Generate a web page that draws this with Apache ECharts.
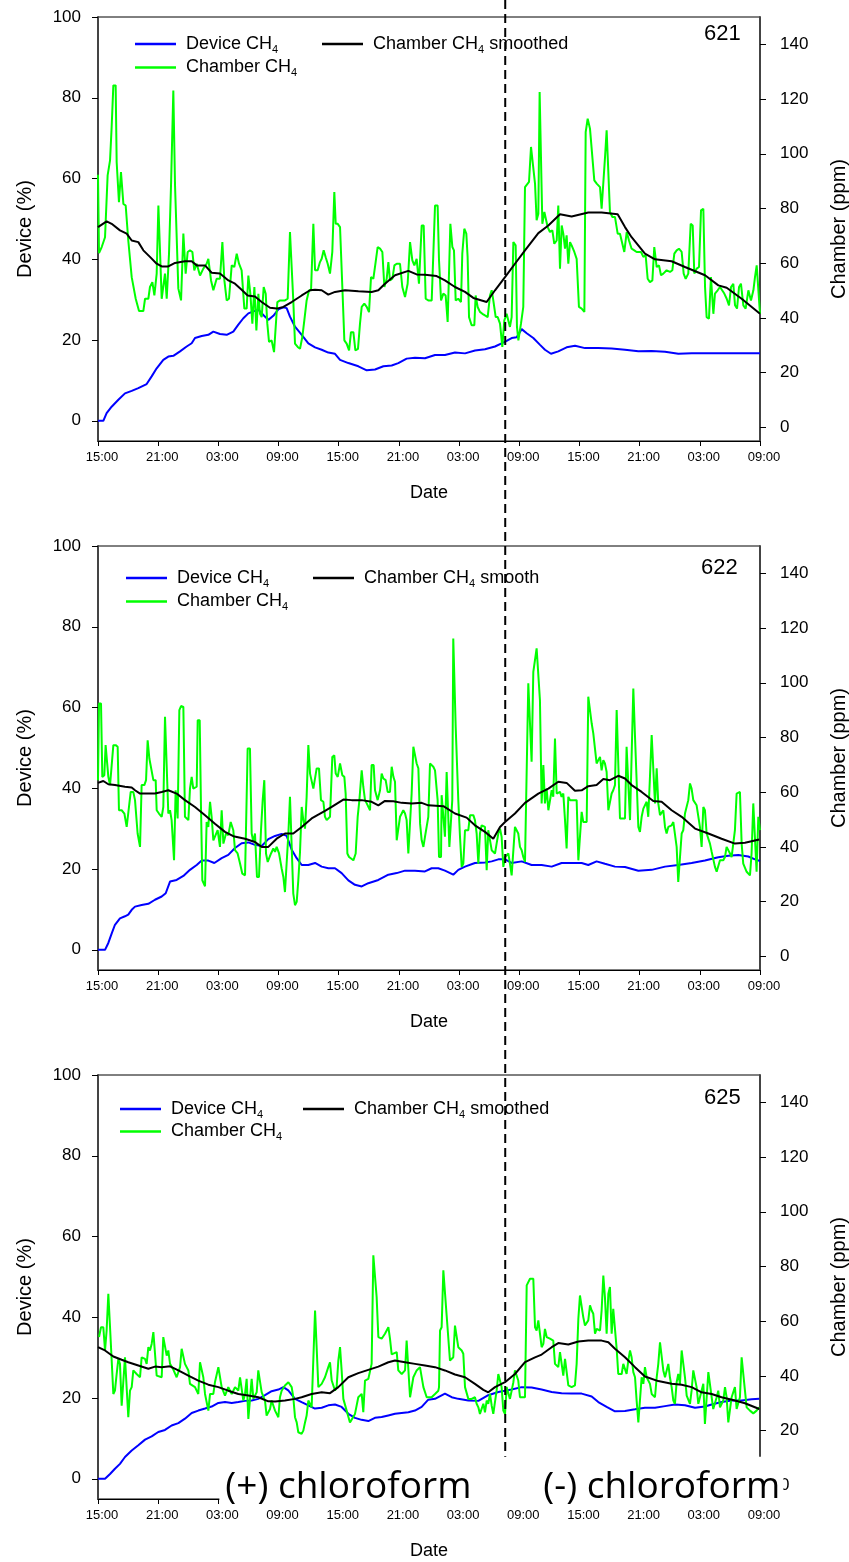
<!DOCTYPE html>
<html><head><meta charset="utf-8">
<script src="https://cdn.jsdelivr.net/npm/echarts@6/dist/echarts.min.js"></script>
<style>html,body{margin:0;padding:0;background:#fff}#c{width:849px;height:1562px}</style>
</head><body><div id="c"></div>
<script>
// ---------------- data (hours since 15:00 on day 1) ----------------
const TIME_LABELS = ['15:00','21:00','03:00','09:00','15:00','21:00','03:00','09:00','15:00','21:00','03:00','09:00'];
const PANEL_IDS = ['621','622','625'];
const SMOOTH_NAMES = ['Chamber CH4 smoothed','Chamber CH4 smooth','Chamber CH4 smoothed'];
const SWITCH_HOUR = 40.6;
const DEVICE_TICKS = [0,20,40,60,80,100];
const CHAMBER_TICKS = [0,20,40,60,80,100,120,140];
const LABEL_PLUS = '(+) chloroform';
const LABEL_MINUS = '(-) chloroform';

const P1_DEVICE = [[0,0],[0.53,0],[0.86,1.9],[1.36,3.5],[2.03,5.2],[2.69,6.8],[3.36,7.4],[4.02,8.1],[4.85,9.1],[5.35,11.0],[5.85,13.0],[6.51,15.1],[7.01,15.9],[7.51,16.1],[8.18,17.2],[8.84,18.4],[9.34,19.2],[9.67,20.5],[10.34,21.0],[11.0,21.3],[11.5,22.1],[12.16,21.5],[12.83,21.3],[13.49,22.1],[13.99,23.8],[14.49,25.4],[14.99,26.6],[15.49,27.1],[15.99,27.5],[16.48,26.2],[16.98,25.0],[17.48,26.0],[17.98,27.6],[18.48,28.1],[18.81,27.9],[19.14,25.8],[19.64,23.3],[20.31,21.3],[20.97,19.2],[21.64,18.2],[22.3,17.6],[22.96,16.9],[23.63,16.6],[24.13,15.1],[24.96,14.3],[25.96,13.5],[26.79,12.5],[27.62,12.7],[28.45,13.5],[29.28,13.7],[29.94,14.3],[30.77,15.4],[31.6,15.6],[32.6,15.5],[33.6,16.3],[34.59,16.3],[35.59,16.9],[36.59,16.7],[37.59,17.4],[38.58,17.7],[39.58,18.4],[40.24,19.2],[40.74,19.8],[41.24,20.5],[41.74,20.7],[42.24,22.7],[42.74,21.7],[43.4,20.5],[44.07,18.8],[44.56,17.6],[45.16,16.6],[45.89,17.2],[46.72,18.2],[47.56,18.6],[48.55,18.0],[49.88,18.0],[51.21,17.9],[52.54,17.6],[53.87,17.2],[55.2,17.3],[56.53,17.1],[57.86,16.6],[59.19,16.7],[60.18,16.7],[66,16.7]];
const P1_CHAMBER = [[0,92.3],[0.1,63.7],[0.37,65.9],[0.7,69.5],[0.96,92.1],[1.2,97.6],[1.36,109.7],[1.53,125],[1.76,125],[1.86,97],[2.09,82.3],[2.29,93.3],[2.53,81.7],[2.76,81.1],[3.02,68.3],[3.36,54.9],[3.76,47],[4.09,42.5],[4.52,42.5],[4.69,47],[5.02,47],[5.18,51.3],[5.42,53.1],[5.62,48.2],[5.85,56.2],[6.02,81.1],[6.18,81.1],[6.35,47],[6.68,56.2],[6.85,47],[7.08,63.5],[7.28,88.4],[7.51,123.1],[7.68,88.4],[7.84,87.8],[8.01,50.7],[8.28,46.4],[8.51,70.8],[8.74,56.2],[8.94,64.1],[9.17,64.7],[9.41,64.1],[9.6,57.4],[9.84,59.8],[10.17,55.5],[10.5,58],[10.83,59.8],[11.0,61.6],[11.27,53.7],[11.5,50.1],[11.83,54.3],[12.16,54.3],[12.4,67.7],[12.6,53.7],[12.83,46.4],[13.06,47],[13.33,59.2],[13.59,58.6],[13.83,63.5],[14.06,59.8],[14.32,57.4],[14.59,43.4],[14.82,43.4],[14.99,55.5],[15.19,48.8],[15.39,37.9],[15.59,51.3],[15.79,35.4],[15.99,48.8],[16.15,41.5],[16.32,40.3],[16.52,51.3],[16.72,48.8],[16.88,37.9],[17.05,31.2],[17.31,31.8],[17.55,27.5],[17.71,28.1],[17.88,45.8],[18.15,46.4],[18.64,46.4],[18.91,47],[19.14,71.4],[19.31,71.4],[19.47,46.4],[19.64,30.6],[19.91,29.4],[20.14,28.7],[20.37,33],[20.57,39.1],[20.8,46.4],[21.04,50.1],[21.24,50.1],[21.47,74.4],[21.64,57.4],[21.9,57.4],[22.13,60.4],[22.3,61.6],[22.5,64.7],[22.7,62.2],[22.9,59.8],[23.13,56.2],[23.36,64.1],[23.56,86],[23.7,74.4],[23.9,74.4],[24.13,73.2],[24.36,51.3],[24.56,31.8],[24.79,30.6],[25.03,28.1],[25.22,34.8],[25.46,34.8],[25.66,28.1],[25.92,28.7],[26.12,37.9],[26.29,44],[26.55,45.2],[26.79,44],[27.02,42.1],[27.22,54.9],[27.45,54.3],[27.68,60.4],[27.88,65.9],[28.12,65.3],[28.35,64.1],[28.55,51.3],[28.78,54.3],[28.95,60.4],[29.11,53.7],[29.35,54.3],[29.55,59.2],[29.78,59.8],[30.11,59.8],[30.34,51.3],[30.61,47.6],[30.87,52.5],[31.11,67.7],[31.34,61],[31.54,59.2],[31.77,61.6],[32.0,52.5],[32.27,73.8],[32.47,73.8],[32.67,47],[32.93,46.4],[33.27,46.4],[33.6,81.1],[33.86,81.1],[34.0,61.0],[34.2,46.4],[34.43,48.9],[34.66,48.2],[34.86,38.5],[34.99,39.1],[35.13,74.4],[35.33,65.9],[35.49,64.7],[35.66,46.4],[35.92,47.0],[36.19,45.8],[36.32,63.5],[36.52,72.6],[36.72,70.8],[36.85,62.3],[36.99,40.3],[37.25,37.3],[37.52,37.3],[37.65,48.2],[37.85,44.0],[38.08,42.2],[38.32,41.5],[38.58,40.9],[38.85,40.3],[39.08,48.2],[39.25,50.1],[39.41,46.4],[39.65,40.3],[39.85,40.3],[40.08,37.9],[40.31,29.4],[40.51,39.1],[40.74,41.5],[40.91,42.2],[41.07,36.7],[41.24,40.3],[41.41,67.7],[41.64,66.5],[41.77,36.7],[41.91,31.8],[42.17,37.9],[42.4,44.0],[42.57,87.8],[42.74,88.4],[42.97,89.7],[43.17,102.5],[43.33,102.5],[43.57,89.1],[43.73,75.7],[43.9,78.1],[44.03,122.6],[44.17,122.6],[44.3,74.4],[44.5,78.7],[44.63,78.7],[44.83,73.2],[45.06,71.4],[45.3,72.0],[45.49,67.1],[45.73,68.3],[45.89,81.1],[46.06,58.0],[46.23,73.8],[46.39,70.8],[46.56,65.3],[46.72,70.2],[46.89,59.8],[47.06,67.7],[47.22,66.5],[47.49,64.1],[47.72,61.6],[47.95,44.0],[48.22,43.4],[48.49,42.2],[48.62,107.9],[48.82,112.8],[49.05,109.2],[49.22,108.6],[49.48,90.3],[49.72,89.1],[49.88,89.7],[50.05,87.8],[50.21,79.9],[50.38,79.9],[50.55,98.8],[50.71,108.6],[50.88,108.6],[51.04,78.7],[51.28,76.9],[51.54,76.9],[51.81,70.8],[52.04,70.8],[52.21,70.8],[52.47,64.1],[52.71,71.4],[52.94,68.3],[53.2,65.3],[53.47,64.7],[53.7,64.1],[53.87,63.5],[54.14,64.1],[54.37,62.3],[54.6,62.9],[54.8,54.3],[55.03,53.1],[55.27,53.7],[55.46,65.9],[55.7,58.6],[55.93,59.2],[56.13,55.6],[56.36,56.2],[56.69,57.4],[57.03,56.8],[57.26,57.4],[57.46,63.5],[57.69,64.7],[57.92,65.3],[58.19,64.1],[58.39,56.2],[58.59,54.3],[58.85,56.2],[59.09,74.4],[59.29,73.8],[59.45,56.2],[59.69,58.0],[59.92,58.6],[60.12,79.3],[60.35,79.9],[60.52,51.3],[60.68,40.3],[60.91,39.7],[61.11,54.9],[61.35,41.5],[61.51,48.9],[61.78,50.1],[62.01,51.3],[62.18,50.7],[62.44,48.9],[62.68,47.0],[62.91,44.6],[63.11,51.3],[63.34,52.5],[63.51,44.6],[63.71,43.4],[63.91,51.3],[64.1,52.5],[64.34,44.6],[64.57,43.4],[64.84,50.1],[65.1,46.4],[65.34,50.1],[65.5,54.9],[65.67,59.2],[65.83,59.2],[66,41.5]];
const P1_SMOOTH = [[0,73.2],[0.86,75.3],[1.36,74.4],[2.19,72.0],[2.86,70.8],[3.36,68.3],[4.02,67.7],[4.52,64.7],[5.18,62.3],[5.85,59.8],[6.35,58.8],[7.01,58.8],[7.68,60.1],[8.67,60.7],[9.34,60.7],[9.84,59.2],[10.67,59.2],[11.33,56.5],[12.16,56.2],[13.0,53.7],[13.66,52.5],[14.32,50.3],[14.92,48.2],[15.65,47.8],[16.32,45.8],[17.15,43.7],[17.81,43.4],[18.48,44.0],[19.31,45.8],[20.31,48.2],[21.14,50.1],[21.64,50.3],[22.3,50.1],[22.96,48.5],[23.63,49.5],[24.63,50.1],[25.96,49.7],[27.28,49.5],[27.95,50.1],[28.61,52.5],[29.61,55.6],[30.94,57.2],[31.77,55.9],[32.6,55.8],[33.76,55.3],[34.59,53.7],[35.59,51.3],[36.59,49.5],[37.42,47.3],[38.75,45.8],[39.58,50.1],[40.58,54.9],[41.57,59.8],[42.57,64.7],[43.9,71.0],[44.9,73.8],[46.06,77.9],[47.22,77.1],[48.88,78.5],[50.21,78.5],[51.81,77.9],[52.54,73.2],[53.2,69.5],[54.53,63.5],[55.53,61.4],[57.19,60.7],[58.52,58.6],[60.52,55.6],[61.85,51.9],[62.68,51.0],[64.17,47.0],[66,41.5]];

const P2_DEVICE = [[0,0],[0.7,0],[1.03,1.7],[1.36,4.0],[1.69,6.2],[2.19,7.8],[2.69,8.3],[3.02,8.7],[3.36,9.9],[3.69,10.7],[4.35,11.1],[5.02,11.4],[5.68,12.4],[6.35,13.2],[6.75,14.0],[7.18,16.9],[7.84,17.3],[8.51,18.3],[9.17,19.8],[9.84,21.0],[10.34,22.1],[11.0,22.1],[11.6,21.5],[12.33,22.7],[12.99,23.5],[13.66,25.2],[14.32,26.4],[14.99,26.6],[15.65,26.0],[16.32,25.7],[16.98,27.4],[17.65,28.2],[18.31,28.7],[18.81,28.2],[19.31,24.8],[19.81,22.7],[20.31,21.0],[20.97,21.0],[21.64,21.5],[22.3,20.6],[22.96,20.2],[23.63,20.2],[24.29,19.0],[24.96,17.2],[25.62,16.1],[26.29,15.7],[26.95,16.5],[27.95,17.3],[28.95,18.6],[29.78,19.0],[30.61,19.6],[31.6,19.6],[32.6,19.4],[33.26,20.2],[33.93,20.2],[34.59,19.6],[35.42,18.6],[35.92,19.8],[36.59,20.6],[37.58,21.5],[38.58,21.6],[39.25,21.9],[39.91,22.4],[40.58,22.4],[41.24,21.5],[42.24,21.9],[43.23,21.0],[44.23,21.0],[45.23,20.6],[46.22,21.5],[47.22,21.5],[48.22,21.5],[48.88,21.0],[49.71,21.9],[50.54,21.3],[51.54,20.6],[52.54,20.5],[53.87,19.6],[55.2,19.8],[56.53,20.6],[57.85,21.0],[59.18,21.5],[60.51,22.1],[61.84,22.9],[62.84,23.3],[63.84,23.5],[64.83,23.1],[65.5,22.4],[66,22.0]];
const P2_CHAMBER = [[0,64.4],[0.1,92.4],[0.3,92.4],[0.43,65.6],[0.63,66.2],[0.76,77.2],[0.93,77.2],[1.03,65.6],[1.2,62.6],[1.36,62.6],[1.53,77.2],[1.76,77.2],[1.96,76.6],[2.09,53.4],[2.36,53.4],[2.63,52.2],[2.86,47.3],[3.02,47.3],[3.26,60.1],[3.52,60.1],[3.69,57.1],[3.95,44.9],[4.19,40.0],[4.35,62.6],[4.62,62.6],[4.79,64.4],[4.95,79.0],[5.12,72.3],[5.28,71.7],[5.52,64.4],[5.75,64.4],[5.85,53.4],[6.08,52.2],[6.35,51.0],[6.51,54.6],[6.68,87.6],[6.85,87.0],[7.01,52.2],[7.18,53.4],[7.34,49.8],[7.58,35.1],[7.74,60.7],[7.94,50.4],[8.11,90.0],[8.28,91.5],[8.51,91.2],[8.67,51.0],[8.84,51.6],[9.01,49.8],[9.17,61.3],[9.34,65.6],[9.5,61.3],[9.84,62.0],[9.94,86.3],[10.14,86.3],[10.27,54.0],[10.4,27.8],[10.67,25.6],[10.83,49.1],[11.0,47.3],[11.17,56.5],[11.33,51.0],[11.5,42.4],[11.66,42.4],[11.93,46.1],[12.16,40.0],[12.33,53.4],[12.5,41.2],[12.76,44.9],[12.99,44.3],[13.23,49.1],[13.49,46.1],[13.66,38.8],[13.92,37.6],[14.16,33.9],[14.39,30.2],[14.66,29.6],[14.82,30.2],[14.92,76.0],[15.15,76.0],[15.32,44.9],[15.49,41.8],[15.65,44.9],[15.85,29.0],[16.05,29.0],[16.25,46.1],[16.42,57.1],[16.58,64.4],[16.75,37.6],[16.92,34.5],[17.05,34.5],[17.25,37.6],[17.48,39.4],[17.65,38.2],[17.81,40.0],[18.05,37.6],[18.31,32.1],[18.48,29.0],[18.64,23.5],[18.81,24.1],[18.98,44.9],[19.14,58.3],[19.31,58.3],[19.47,22.9],[19.64,18.7],[19.81,19.9],[19.97,27.8],[20.14,38.2],[20.31,54.6],[20.47,49.8],[20.64,46.7],[20.8,58.3],[20.97,77.2],[21.14,66.8],[21.3,66.8],[21.47,61.3],[21.64,61.3],[21.8,68.7],[22.03,68.7],[22.23,57.1],[22.47,56.5],[22.63,51.0],[22.8,49.8],[23.13,51.0],[23.36,72.9],[23.56,73.5],[23.7,66.8],[23.9,65.6],[24.13,70.5],[24.36,66.2],[24.56,65.6],[24.69,59.5],[24.86,37.6],[25.03,36.3],[25.22,37.0],[25.46,35.1],[25.69,37.6],[25.89,51.0],[26.06,57.1],[26.29,68.0],[26.45,62.0],[26.62,57.1],[26.79,55.9],[27.12,53.4],[27.28,69.9],[27.48,69.9],[27.62,60.7],[27.88,57.1],[28.12,60.7],[28.28,66.8],[28.45,65.0],[28.68,64.4],[28.88,60.1],[29.11,60.1],[29.28,69.3],[29.45,65.6],[29.61,63.8],[29.78,42.4],[29.94,42.4],[30.11,51.0],[30.28,52.2],[30.44,53.4],[30.61,52.2],[30.77,49.8],[30.94,37.6],[31.11,37.6],[31.27,59.5],[31.44,76.6],[31.6,76.6],[31.77,70.5],[31.94,68.7],[32.11,48.5],[32.27,42.4],[32.44,40.0],[32.6,43.7],[32.77,43.7],[32.93,51.0],[33.1,70.5],[33.43,69.3],[33.6,68.0],[33.76,68.0],[33.86,57.1],[34.0,36.3],[34.2,36.3],[34.26,58.9],[34.43,58.3],[34.59,43.7],[34.76,67.4],[34.93,67.4],[35.03,40.0],[35.19,40.0],[35.32,57.1],[35.42,116.2],[35.59,115.6],[35.66,83.9],[35.79,83.9],[35.92,57.1],[36.09,43.7],[36.26,32.7],[36.42,33.9],[36.59,46.1],[36.92,46.1],[37.09,51.6],[37.42,51.6],[37.58,49.8],[37.75,44.9],[37.92,33.9],[38.08,44.9],[38.25,47.9],[38.58,47.3],[38.75,31.5],[38.91,46.1],[39.08,46.1],[39.25,38.8],[39.58,37.6],[39.74,41.2],[39.91,44.9],[40.08,46.7],[40.24,43.7],[40.41,32.7],[40.58,36.3],[40.91,37.6],[41.07,33.9],[41.24,29.6],[41.41,29.6],[41.57,47.3],[41.74,47.3],[41.9,44.9],[42.07,40.0],[42.24,38.8],[42.4,36.3],[42.57,34.5],[42.74,35.1],[42.9,99.8],[43.07,99.8],[43.23,71.1],[43.4,104.0],[43.57,104.6],[43.73,112.6],[43.9,112.6],[44.06,93.7],[44.23,55.9],[44.4,69.9],[44.56,55.9],[44.73,61.3],[44.9,53.4],[45.06,53.4],[45.23,60.7],[45.39,58.3],[45.56,79.6],[45.73,59.5],[46.06,60.1],[46.22,58.3],[46.39,59.5],[46.56,49.8],[46.72,39.4],[46.89,58.3],[47.06,57.1],[47.72,57.1],[47.89,35.1],[48.05,35.1],[48.22,52.8],[48.38,49.1],[48.72,49.1],[48.88,94.9],[49.05,95.5],[49.22,85.1],[49.38,81.5],[49.55,80.9],[49.71,70.5],[49.88,70.5],[50.05,72.9],[50.21,68.0],[50.38,71.7],[50.54,70.5],[50.71,67.4],[50.88,53.4],[51.04,52.8],[51.21,59.5],[51.37,60.7],[51.54,62.6],[51.71,90.0],[51.87,90.0],[52.04,50.4],[52.54,50.4],[52.7,76.6],[52.87,76.6],[53.04,49.8],[53.2,49.8],[53.37,97.9],[53.54,80.2],[53.7,80.2],[53.87,47.3],[54.03,45.5],[54.2,51.0],[54.37,54.0],[54.53,54.6],[54.7,56.5],[54.86,51.0],[55.03,65.6],[55.2,80.9],[55.36,80.9],[55.53,55.9],[55.7,68.7],[55.86,55.9],[56.03,51.6],[56.19,51.0],[56.36,53.4],[56.53,47.3],[56.69,44.9],[56.86,47.3],[57.19,47.9],[57.36,49.1],[57.52,49.8],[57.69,40.0],[57.85,27.2],[58.02,27.8],[58.19,44.9],[58.35,46.1],[58.52,52.2],[58.69,52.2],[58.85,57.1],[59.02,63.2],[59.18,61.3],[59.35,57.1],[59.52,56.5],[59.68,55.2],[59.85,54.6],[60.01,47.3],[60.18,40.0],[60.35,54.6],[60.51,53.4],[60.68,44.9],[60.85,45.5],[61.01,41.2],[61.18,38.2],[61.34,37.6],[61.51,32.7],[61.68,30.9],[61.84,30.2],[62.01,35.1],[62.34,35.1],[62.51,36.3],[62.67,40.0],[62.84,40.6],[63.01,37.6],[63.17,36.3],[63.34,36.3],[63.5,46.1],[63.67,59.5],[64.0,60.1],[64.17,41.2],[64.33,33.9],[64.5,33.9],[64.67,30.9],[64.83,30.2],[65.0,29.6],[65.16,37.6],[65.33,55.9],[65.5,55.9],[65.66,30.9],[65.83,51.0],[66,46.1]];
const P2_SMOOTH = [[0,63.4],[0.53,64.1],[1.03,62.9],[1.69,62.6],[2.69,62.0],[3.36,61.7],[3.69,60.7],[4.19,59.5],[5.68,59.5],[6.35,60.1],[7.01,60.7],[7.84,59.5],[8.67,57.1],[9.67,54.6],[10.67,51.6],[11.66,48.5],[12.66,45.5],[13.49,43.9],[14.66,43.0],[15.65,41.8],[16.32,40.0],[16.98,40.0],[17.81,43.0],[18.64,44.9],[19.47,44.9],[20.31,47.3],[21.3,50.4],[22.63,53.2],[23.3,54.6],[24.46,57.3],[25.29,57.1],[26.29,57.1],[27.28,56.5],[27.95,55.2],[28.61,56.8],[29.45,56.7],[30.28,56.1],[31.27,55.9],[32.27,56.1],[32.93,55.2],[34.43,54.9],[35.59,52.2],[36.75,50.7],[37.58,47.9],[38.58,45.5],[39.41,43.0],[40.08,47.3],[40.58,49.1],[41.57,52.2],[42.57,56.1],[43.9,59.5],[44.9,61.3],[45.89,63.8],[46.72,63.4],[47.55,60.5],[48.22,60.7],[48.88,62.2],[49.71,62.6],[50.38,64.8],[51.04,64.4],[51.87,66.0],[52.54,65.0],[53.2,62.6],[54.2,60.1],[55.36,56.8],[56.19,56.5],[57.19,53.4],[58.19,51.0],[59.52,46.7],[60.85,44.9],[62.17,43.0],[63.5,41.2],[64.5,41.5],[65.93,42.7]];

const P3_DEVICE = [[0,0],[0.7,0],[1.2,1.2],[1.69,2.5],[2.19,3.7],[2.69,5.4],[3.36,7.0],[4.02,8.3],[4.69,9.7],[5.35,10.5],[6.01,11.6],[6.68,12.1],[7.34,13.2],[8.01,13.8],[8.67,14.9],[9.34,16.3],[10.0,16.9],[10.67,17.4],[11.33,17.9],[12.0,18.8],[12.66,19.0],[13.33,18.8],[13.99,19.0],[14.65,19.3],[15.32,19.4],[15.98,19.8],[16.65,20.7],[17.31,21.7],[17.98,22.1],[18.48,22.7],[18.97,21.9],[19.64,19.8],[20.3,19.0],[20.97,18.2],[21.63,17.4],[22.3,17.6],[22.96,18.2],[23.63,18.4],[24.29,17.8],[24.96,16.1],[25.62,15.1],[26.28,14.6],[26.95,14.3],[27.61,15.1],[28.28,15.3],[28.94,15.7],[29.61,16.1],[30.27,16.3],[30.94,16.5],[31.6,16.9],[32.27,17.8],[32.93,19.6],[33.6,19.8],[34.59,21.1],[35.26,20.2],[35.92,19.8],[36.92,19.4],[37.92,19.3],[38.91,20.7],[39.91,21.5],[41.24,22.1],[42.24,22.7],[43.23,22.6],[44.23,22.1],[45.23,21.5],[46.22,21.2],[47.22,21.1],[48.22,21.1],[49.22,20.4],[49.88,19.0],[50.71,17.8],[51.54,16.7],[52.54,16.8],[53.54,17.2],[54.53,17.6],[55.53,17.6],[56.53,18.0],[57.52,18.4],[58.52,18.2],[59.52,17.6],[60.51,17.9],[61.18,18.4],[62.17,19.0],[63.17,19.4],[64.17,19.4],[65.16,19.7],[65.93,19.8]];
const P3_CHAMBER = [[0.1,54.2],[0.3,57.8],[0.53,57.8],[0.7,49.3],[0.86,56.6],[1.03,70.0],[1.2,57.8],[1.36,57.8],[1.53,33.4],[1.69,34.6],[1.86,40.7],[2.03,46.2],[2.19,44.4],[2.36,29.1],[2.53,29.1],[2.69,46.8],[2.86,46.2],[3.02,24.9],[3.19,34.6],[3.36,35.9],[3.52,42.0],[3.85,40.7],[4.19,39.5],[4.35,46.8],[4.69,46.2],[4.85,44.4],[5.02,50.5],[5.18,49.3],[5.35,51.7],[5.52,56.0],[5.68,56.0],[5.85,40.1],[6.35,39.5],[6.51,54.2],[6.68,54.2],[6.85,47.4],[7.01,49.3],[7.18,44.4],[7.51,42.3],[7.84,39.5],[8.01,38.9],[8.18,43.2],[8.34,49.9],[8.51,49.3],[8.67,44.4],[9.01,42.0],[9.17,37.1],[9.67,35.9],[10.0,33.4],[10.17,45.0],[10.34,45.0],[10.5,39.5],[10.67,33.4],[11.0,27.3],[11.17,33.4],[11.5,33.4],[11.66,37.7],[12.0,43.2],[12.16,43.2],[12.33,35.9],[12.49,35.9],[12.66,32.8],[12.99,35.9],[13.33,33.4],[13.66,35.9],[13.99,34.6],[14.16,39.5],[14.32,39.5],[14.49,31.0],[14.66,33.4],[14.82,38.9],[14.99,24.3],[15.15,24.9],[15.32,38.9],[15.49,31.6],[15.65,31.6],[15.82,34.0],[15.98,42.0],[16.15,42.0],[16.32,34.0],[16.65,31.0],[16.81,25.5],[17.15,27.9],[17.31,31.0],[17.65,27.3],[17.98,24.9],[18.14,32.2],[18.31,34.6],[18.64,36.5],[18.98,37.7],[19.31,35.9],[19.47,32.2],[19.64,24.9],[19.81,23.0],[19.97,19.4],[20.3,18.8],[20.47,20.0],[20.64,23.0],[20.8,25.5],[20.97,31.0],[21.14,31.6],[21.3,28.5],[21.47,29.1],[21.64,63.9],[21.8,63.9],[21.97,35.9],[22.3,37.1],[22.63,39.5],[22.96,43.2],[23.13,45.0],[23.3,38.3],[23.63,34.6],[23.79,35.9],[23.96,45.6],[24.13,50.5],[24.29,42.0],[24.46,31.6],[24.79,27.3],[25.12,23.0],[25.29,22.4],[25.62,26.1],[25.79,26.1],[25.95,32.2],[26.29,33.4],[26.45,26.7],[26.62,38.3],[26.95,38.9],[27.28,44.4],[27.45,84.1],[27.61,84.1],[27.78,68.8],[27.95,54.2],[28.28,53.6],[28.61,55.4],[28.95,57.8],[29.11,53.6],[29.28,47.9],[29.78,48.7],[29.94,42.0],[30.28,40.7],[30.61,42.0],[30.77,52.9],[30.94,53.6],[31.11,32.2],[31.27,32.2],[31.44,39.5],[31.77,42.0],[32.1,43.2],[32.27,43.2],[32.44,35.9],[32.77,32.2],[32.93,31.6],[33.26,32.2],[33.6,33.4],[33.93,34.6],[34.0,35.9],[34.1,56.6],[34.26,57.8],[34.43,78.6],[34.59,78.6],[34.76,62.1],[34.93,61.5],[35.09,45.6],[35.26,45.6],[35.42,46.8],[35.59,58.4],[35.76,58.4],[35.92,50.5],[36.26,49.3],[36.42,48.1],[36.59,35.9],[36.75,35.9],[36.92,31.6],[37.25,31.6],[37.58,32.2],[37.75,29.8],[37.92,28.5],[38.08,26.1],[38.25,26.1],[38.42,29.8],[38.58,26.7],[38.75,31.0],[38.91,29.8],[39.08,33.4],[39.25,29.1],[39.41,26.1],[39.58,25.5],[39.74,34.6],[39.91,40.7],[40.08,40.7],[40.24,35.9],[40.41,27.3],[40.58,26.1],[40.74,35.9],[40.91,35.9],[41.07,31.6],[41.24,34.6],[41.41,37.7],[41.57,42.0],[41.74,42.0],[41.9,38.3],[42.07,32.2],[42.24,31.6],[42.57,32.2],[42.74,73.1],[42.9,73.7],[43.07,75.5],[43.23,76.1],[43.4,75.5],[43.57,57.8],[43.73,56.6],[43.9,60.3],[44.06,60.3],[44.23,50.5],[44.4,51.7],[44.56,57.2],[44.73,54.2],[45.06,53.6],[45.39,52.9],[45.56,44.4],[45.73,44.4],[45.89,43.2],[46.06,48.7],[46.22,48.7],[46.39,40.1],[46.56,46.2],[46.72,46.2],[46.89,36.5],[47.22,35.9],[47.55,36.5],[47.72,44.4],[47.89,60.9],[48.05,69.4],[48.22,69.4],[48.38,61.5],[48.55,58.4],[48.88,60.3],[49.05,65.8],[49.22,63.9],[49.38,62.7],[49.55,55.4],[49.71,57.2],[50.05,56.6],[50.21,63.9],[50.38,76.7],[50.54,68.8],[50.71,55.4],[50.88,70.0],[51.04,72.5],[51.21,55.4],[51.37,64.5],[51.54,64.5],[51.71,49.9],[51.87,40.7],[52.21,40.7],[52.37,44.4],[52.54,45.0],[52.7,40.7],[52.87,45.6],[53.04,49.3],[53.2,46.8],[53.37,41.4],[53.54,39.5],[53.7,31.0],[53.87,23.0],[54.03,23.0],[54.2,39.5],[54.37,37.1],[54.53,43.2],[54.7,39.5],[55.03,37.1],[55.2,33.4],[55.53,32.2],[55.7,39.5],[55.86,44.4],[56.03,52.3],[56.19,52.9],[56.36,42.0],[56.53,39.5],[56.86,44.4],[57.02,39.5],[57.19,35.9],[57.36,31.0],[57.52,29.8],[57.69,37.7],[57.85,40.7],[58.02,37.1],[58.19,49.3],[58.35,48.7],[58.52,39.5],[58.69,32.8],[59.02,29.8],[59.18,34.6],[59.35,42.0],[59.52,42.6],[59.68,35.9],[59.85,29.8],[60.01,29.1],[60.35,37.1],[60.51,22.4],[60.68,23.0],[60.85,41.4],[61.01,41.4],[61.18,32.2],[61.34,27.9],[61.68,32.2],[61.84,34.6],[62.01,28.5],[62.34,31.0],[62.51,35.9],[62.67,32.2],[62.84,23.0],[63.01,22.4],[63.17,32.2],[63.5,35.9],[63.67,27.9],[63.84,27.3],[64.0,32.2],[64.17,46.8],[64.33,46.2],[64.5,34.6],[64.67,28.5],[65.0,27.3],[65.33,26.3],[65.66,27.3],[65.93,28.5]];
const P3_SMOOTH = [[0,50.5],[0.7,49.3],[1.53,47.1],[2.36,45.9],[3.02,45.0],[4.02,43.8],[5.02,42.6],[5.68,43.4],[6.35,43.2],[7.18,43.5],[8.01,42.0],[9.01,40.1],[10.0,38.3],[11.0,36.8],[12.0,35.9],[12.99,34.6],[13.99,33.4],[14.99,32.8],[15.98,32.2],[16.98,30.7],[17.65,30.6],[18.64,31.0],[19.64,31.6],[20.3,32.2],[21.3,33.4],[22.3,34.0],[23.13,33.7],[23.96,35.9],[24.96,39.5],[25.95,41.0],[26.95,42.2],[27.95,43.4],[28.95,45.0],[29.61,45.6],[30.61,45.0],[31.6,44.4],[32.6,43.8],[33.6,43.2],[34.59,42.0],[35.59,40.5],[36.59,39.5],[37.58,37.1],[38.42,34.9],[38.91,34.0],[39.58,35.9],[40.58,37.7],[41.57,40.7],[42.57,45.0],[43.57,46.8],[44.23,47.8],[45.23,50.5],[45.89,52.0],[46.89,51.5],[47.89,52.6],[48.88,52.9],[50.21,52.9],[50.88,52.3],[51.54,49.9],[52.54,46.8],[53.54,43.2],[54.53,39.8],[55.86,38.1],[57.19,37.1],[58.19,36.8],[59.18,35.9],[60.18,34.0],[61.18,33.4],[62.17,32.2],[63.5,31.0],[64.5,30.0],[65.93,27.9]];

const PANELS = [
  {device: P1_DEVICE, chamber: P1_CHAMBER, smooth: P1_SMOOTH},
  {device: P2_DEVICE, chamber: P2_CHAMBER, smooth: P2_SMOOTH},
  {device: P3_DEVICE, chamber: P3_CHAMBER, smooth: P3_SMOOTH}
];

// ---------------- layout / style ----------------
const FONT = '"Liberation Sans", Arial, sans-serif';
const GRID_TOPS = [17, 546, 1075];
const GRID_H = 424;
const LEGEND_POS = [
  {dev: [135, 44], sm: [322, 44], ch: [135, 67.5]},
  {dev: [126, 578], sm: [313, 578], ch: [126, 601.5]},
  {dev: [120, 1109], sm: [303, 1109], ch: [120, 1131.5]}
];
const NUM_POS = [[704, 22.5], [701, 557], [704, 1086.5]];
const COL_DEV = '#0000ff', COL_CH = '#00ff00', COL_SM = '#000000';

const chart = echarts.init(document.getElementById('c'), null, {renderer: 'canvas'});

const grids = [], xAxes = [], yAxes = [], series = [], legends = [], titles = [];
function legendFmt(name) { return '{g| }' + name.replace('CH4', 'CH{s|4}'); }
function makeLegend(name, pos) {
  return {
    data: [name], left: pos[0], top: pos[1] - 11, padding: 0, orient: 'horizontal',
    icon: 'rect', itemWidth: 41, itemHeight: 2.5, selectedMode: false,
    formatter: legendFmt,
    textStyle: {fontSize: 18, color: '#000', fontFamily: FONT, lineHeight: 22,
      rich: {g: {width: 5}, s: {fontSize: 11, lineHeight: 11, verticalAlign: 'bottom', fontFamily: FONT, color: '#000'}}}
  };
}

PANELS.forEach((p, i) => {
  grids.push({left: 98, right: 89, top: GRID_TOPS[i], height: GRID_H, show: true,
    borderColor: '#000', borderWidth: 1, backgroundColor: 'transparent', containLabel: false, outerBoundsMode: 'none'});
  xAxes.push({
    type: 'value', gridIndex: i, min: 0, max: 66, interval: 6,
    axisLine: {show: true, onZero: false, lineStyle: {color: '#000', width: 1}},
    axisTick: {show: true, length: 5, lineStyle: {color: '#000'}},
    axisLabel: {formatter: v => TIME_LABELS[Math.round(v / 6)], fontSize: 13, color: '#000',
      fontFamily: FONT, margin: 10, padding: [0, 0, 0, 8], showMinLabel: true, showMaxLabel: true, hideOverlap: false},
    splitLine: {show: false},
    name: 'Date', nameLocation: 'middle', nameGap: 43,
    nameTextStyle: {fontSize: 18, color: '#000', fontFamily: FONT}
  });
  yAxes.push({
    type: 'value', gridIndex: i, position: 'left', min: -5, max: 100,
    axisLine: {show: true, onZero: false, lineStyle: {color: '#444', width: 2}},
    axisTick: {show: true, length: 6, customValues: DEVICE_TICKS, lineStyle: {color: '#000'}},
    axisLabel: {customValues: DEVICE_TICKS, fontSize: 17, color: '#000', fontFamily: FONT, margin: 17},
    splitLine: {show: false},
    name: 'Device (%)', nameLocation: 'middle', nameGap: 63, nameRotate: 90,
    nameTextStyle: {fontSize: 20, color: '#000', fontFamily: FONT}
  });
  yAxes.push({
    type: 'value', gridIndex: i, position: 'right', min: -5, max: 150,
    axisLine: {show: true, onZero: false, lineStyle: {color: '#444', width: 2}},
    axisTick: {show: true, length: 6, customValues: CHAMBER_TICKS, lineStyle: {color: '#000'}},
    axisLabel: {customValues: CHAMBER_TICKS, fontSize: 17, color: '#000', fontFamily: FONT, margin: 20},
    splitLine: {show: false},
    name: 'Chamber (ppm)', nameLocation: 'middle', nameGap: 69, nameRotate: 90,
    nameTextStyle: {fontSize: 20, color: '#000', fontFamily: FONT}
  });
  const common = {type: 'line', xAxisIndex: i, symbol: 'none', showSymbol: false, smooth: false, silent: true};
  series.push(Object.assign({}, common, {name: 'Device CH4', yAxisIndex: i * 2, data: p.device, color: COL_DEV,
    lineStyle: {color: COL_DEV, width: 2}, z: 2}));
  series.push(Object.assign({}, common, {name: 'Chamber CH4', yAxisIndex: i * 2 + 1, data: p.chamber, color: COL_CH,
    lineStyle: {color: COL_CH, width: 2}, z: 3}));
  series.push(Object.assign({}, common, {name: SMOOTH_NAMES[i], yAxisIndex: i * 2 + 1, data: p.smooth, color: COL_SM,
    lineStyle: {color: COL_SM, width: 2}, z: 4}));
  const lp = LEGEND_POS[i];
  legends.push(makeLegend('Device CH4', lp.dev));
  legends.push(makeLegend(SMOOTH_NAMES[i], lp.sm));
  legends.push(makeLegend('Chamber CH4', lp.ch));
  titles.push({text: PANEL_IDS[i], left: NUM_POS[i][0], top: NUM_POS[i][1], padding: 0,
    textStyle: {fontSize: 22, fontWeight: 'normal', color: '#000', fontFamily: FONT}});
});

chart.setOption({
  animation: false,
  backgroundColor: '#fff',
  title: titles,
  legend: legends,
  grid: grids,
  xAxis: xAxes,
  yAxis: yAxes,
  series: series
});

// treatment switch line and bottom labels, placed through the axis scale
const sx = chart.convertToPixel({xAxisIndex: 0}, SWITCH_HOUR);
const bottom3 = GRID_TOPS[2] + GRID_H;
const x0 = chart.convertToPixel({xAxisIndex: 2}, 12.1);
const yBoxTop = chart.convertToPixel({yAxisIndex: 5}, 10.4);
const BIG_FONT = '"Open Sans", "Noto Sans", sans-serif';
chart.setOption({
  graphic: [
    {type: 'line', z: 50, shape: {x1: sx, y1: 0, x2: sx, y2: bottom3}, style: {stroke: '#000', lineWidth: 2, lineDash: [9, 5]}},
    {type: 'rect', z: 100, shape: {x: x0, y: yBoxTop, width: 564, height: 52}, style: {fill: '#fff'}},
    {type: 'text', z: 101, x: x0 + 6, y: 1487, style: {text: LABEL_PLUS, fontSize: 37, fontFamily: BIG_FONT, fill: '#000', verticalAlign: 'middle', align: 'left'}},
    {type: 'text', z: 101, x: x0 + 324, y: 1487, style: {text: LABEL_MINUS, fontSize: 37, fontFamily: BIG_FONT, fill: '#000', verticalAlign: 'middle', align: 'left'}}
  ]
});
</script>
</body></html>
